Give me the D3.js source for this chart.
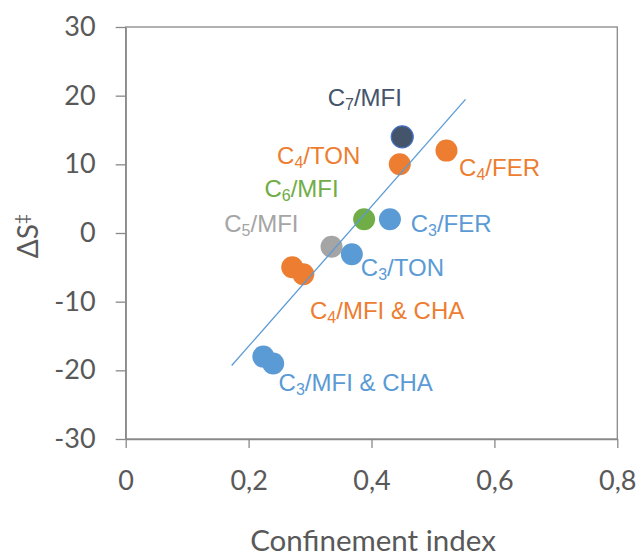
<!DOCTYPE html>
<html><head><meta charset="utf-8">
<script src="https://cdn.jsdelivr.net/npm/d3@7"></script>
<style>body{margin:0;background:#fff}svg{display:block}</style>
</head><body>
<script>
// ---- data ----
const seriesNames = ["C7/MFI","C4/TON","C4/FER","C6/MFI","C5/MFI","C3/FER","C3/TON","C4/MFI & CHA","C3/MFI & CHA"];
const seriesBase = ["C","C","C","C","C","C","C","C","C"];
const seriesSub = ["7","4","4","6","5","3","3","4","3"];
const seriesRest = ["/MFI","/TON","/FER","/MFI","/MFI","/FER","/TON","/MFI & CHA","/MFI & CHA"];
const seriesX = [[0.450],[0.446],[0.522],[0.388],[0.335],[0.430],[0.368],[0.271,0.289],[0.224,0.240]];
const seriesY = [[14],[10],[12],[2],[-2],[2],[-3.1],[-5,-6],[-18,-19]];
const trendX = [0.1725, 0.553];
const trendY = [-19.3, 19.45];
const xTicks = [0,0.2,0.4,0.6,0.8];
const xTickLabels = ["0","0,2","0,4","0,6","0,8"];
const yTicks = [-30,-20,-10,0,10,20,30];
const yTickLabels = ["-30","-20","-10","0","10","20","30"];

// ---- styles / layout ----
const colors = ["#44546A","#ED7D31","#ED7D31","#70AD47","#A5A5A5","#5B9BD5","#5B9BD5","#ED7D31","#5B9BD5"];
const labelOffsets = [[-74.6,-30.7],[-122.7,0],[12.6,25.3],[-99.7,-22],[-107.3,-14.4],[20.7,12.7],[9,21.3],[6.7,44.7],[5.4,27.4]];
const W = 641, H = 557;
const axisColor = "#898989", textColor = "#595959";
const axisFont = "Lato, 'Open Sans', sans-serif";
const labelFont = "'Liberation Sans', Arial, sans-serif";

const svg = d3.select("body").append("svg").attr("width", W).attr("height", H);
const x = d3.scaleLinear().domain([0,0.8]).range([125.7,617.3]);
const y = d3.scaleLinear().domain([-30,30]).range([439,27]);

// frame
svg.append("rect").attr("x", x(0)).attr("y", y(30)).attr("width", x(0.8)-x(0)).attr("height", y(-30)-y(30))
  .attr("fill","none").attr("stroke", axisColor).attr("stroke-width",1.3);

// x axis
const xAxis = svg.append("g").attr("transform", `translate(0,${y(-30)})`)
  .call(d3.axisBottom(x).tickValues(xTicks).tickFormat((d,i)=>xTickLabels[i]).tickSizeInner(9).tickSizeOuter(0).tickPadding(23));
xAxis.select(".domain").attr("stroke", axisColor).attr("stroke-width",1.3);
xAxis.selectAll(".tick line").attr("stroke", axisColor).attr("stroke-width",1.3);
xAxis.selectAll(".tick text").attr("fill", textColor).style("font-family", axisFont).style("font-size","27px");

// y axis
const yAxis = svg.append("g").attr("transform", `translate(${x(0)},0)`)
  .call(d3.axisLeft(y).tickValues(yTicks).tickFormat((d,i)=>yTickLabels[i]).tickSizeInner(10).tickSizeOuter(0).tickPadding(20));
yAxis.select(".domain").attr("stroke", axisColor).attr("stroke-width",1.3);
yAxis.selectAll(".tick line").attr("stroke", axisColor).attr("stroke-width",1.3);
yAxis.selectAll(".tick text").attr("fill", textColor).style("font-family", axisFont).style("font-size","27px");

// axis titles
svg.append("text").attr("x", 373).attr("y", 551).attr("text-anchor","middle")
  .attr("fill", textColor).style("font-family", axisFont).style("font-size","29.5px").text("Confinement index");
const yt = svg.append("text").attr("transform","translate(38,236) rotate(-90)").attr("text-anchor","middle")
  .attr("fill", textColor).style("font-family", axisFont).style("font-size","28px");
yt.append("tspan").text("ΔS");
yt.append("tspan").attr("dy",-10).style("font-size","18px").text("‡");

// points
seriesNames.forEach((name, i) => {
  const pts = seriesX[i].map((v,j)=>({x:v, y:seriesY[i][j]}));
  svg.append("g").selectAll("circle").data(pts).join("circle")
    .attr("cx", d=>x(d.x)).attr("cy", d=>y(d.y)).attr("r", 11)
    .attr("fill", colors[i])
    .attr("stroke", i===0 ? "#4472C4" : "none").attr("stroke-width", 1.2);
});

// trendline
svg.append("line").attr("x1", x(trendX[0])).attr("y1", y(trendY[0]))
  .attr("x2", x(trendX[1])).attr("y2", y(trendY[1]))
  .attr("stroke","#5B9BD5").attr("stroke-width",1.3);

// labels
seriesNames.forEach((name, i) => {
  const n = seriesX[i].length - 1;
  const px = x(seriesX[i][n]), py = y(seriesY[i][n]);
  const t = svg.append("text").attr("x", px + labelOffsets[i][0]).attr("y", py + labelOffsets[i][1])
    .attr("fill", colors[i]).style("font-family", labelFont).style("font-size","24px");
  t.append("tspan").text(seriesBase[i]);
  t.append("tspan").attr("dy", 4).style("font-size","16px").text(seriesSub[i]);
  t.append("tspan").attr("dy", -4).text(seriesRest[i]);
});
</script>
</body></html>
